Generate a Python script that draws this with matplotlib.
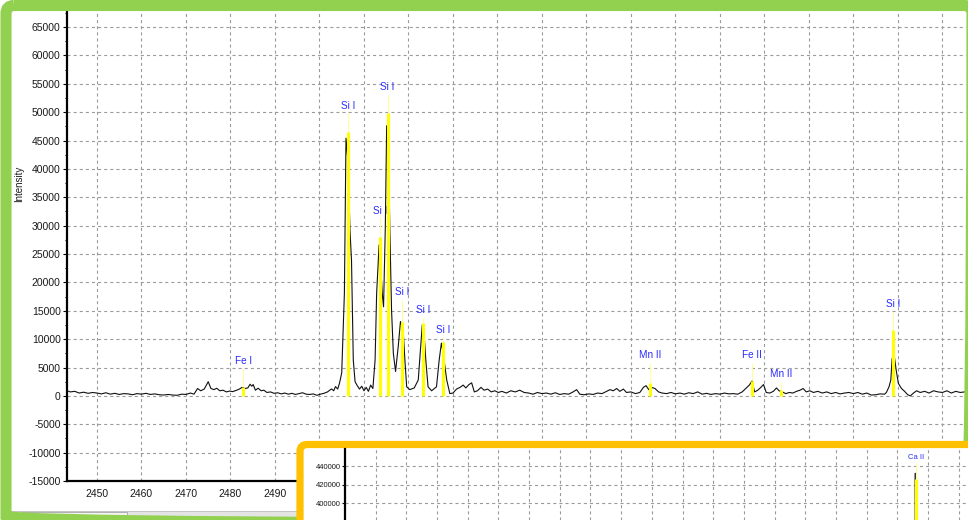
#!/usr/bin/env python
"""Emission spectrum around 2440-2645 with identified lines, plus Ca II detail panel."""
import matplotlib.pyplot as plt
from matplotlib.patches import FancyBboxPatch, Rectangle
from matplotlib.ticker import MultipleLocator

plt.rcParams["font.family"] = ["Liberation Sans", "DejaVu Sans"]
plt.rcParams["lines.scale_dashes"] = False
plt.rcParams["axes.unicode_minus"] = False

# measured spectrum
wavelength = [
    2443.3, 2444.0, 2445.0, 2446.0, 2447.0, 2448.0, 2449.0, 2450.0, 2451.0, 2452.0,
    2453.0, 2454.0, 2455.0, 2456.0, 2457.0, 2458.0, 2459.0, 2460.0, 2461.0, 2462.0,
    2463.0, 2464.0, 2465.0, 2466.0, 2467.0, 2468.0, 2469.0, 2470.0, 2471.0, 2471.8,
    2472.6, 2473.3, 2474.1, 2475.0, 2475.6, 2476.3, 2476.9, 2477.6, 2478.3, 2479.1,
    2479.8, 2480.5, 2481.4, 2482.0, 2482.6, 2483.3, 2483.9, 2484.4, 2484.8, 2485.1,
    2485.6, 2486.2, 2486.9, 2487.5, 2488.2, 2489.0, 2489.8, 2490.6, 2491.4, 2492.2,
    2493.0, 2493.8, 2494.6, 2495.4, 2496.2, 2497.0, 2497.8, 2498.6, 2499.4, 2500.2,
    2501.0, 2501.8, 2502.7, 2503.2, 2503.6, 2504.1, 2504.5, 2505.0, 2505.6, 2505.96,
    2506.45, 2506.85, 2507.2, 2507.6, 2508.0, 2508.5, 2509.0, 2509.5, 2510.0, 2510.5,
    2511.0, 2511.5, 2512.0, 2512.5, 2512.85, 2513.4, 2513.7, 2514.1, 2514.4, 2514.8,
    2515.1, 2515.5, 2515.8, 2516.2, 2516.6, 2517.1, 2517.7, 2518.2, 2518.8, 2519.2,
    2519.6, 2520.3, 2521.3, 2522.2, 2522.8, 2523.1, 2523.5, 2523.9, 2524.4, 2525.2,
    2526.3, 2526.9, 2527.4, 2527.8, 2528.6, 2529.3, 2530.0, 2530.8, 2531.6, 2532.3,
    2532.9, 2533.6, 2534.2, 2534.8, 2535.5, 2536.3, 2537.0, 2537.8, 2538.6, 2539.4,
    2540.2, 2541.0, 2542.0, 2543.0, 2544.0, 2545.0, 2546.0, 2547.0, 2548.0, 2549.0,
    2550.0, 2551.0, 2552.0, 2553.0, 2554.0, 2555.0, 2556.0, 2557.0, 2557.8, 2558.5,
    2559.5, 2560.5, 2561.5, 2562.5, 2563.5, 2564.5, 2565.3, 2566.0, 2566.8, 2567.5,
    2568.3, 2569.0, 2570.0, 2571.0, 2572.0, 2572.8, 2573.4, 2574.0, 2574.6, 2575.4,
    2576.2, 2577.0, 2578.0, 2579.0, 2580.0, 2581.0, 2582.0, 2583.0, 2584.0, 2585.0,
    2586.0, 2587.0, 2588.0, 2589.0, 2590.0, 2591.0, 2592.0, 2593.0, 2594.0, 2595.0,
    2595.8, 2596.6, 2597.2, 2597.8, 2598.5, 2599.2, 2599.8, 2600.4, 2601.2, 2602.0,
    2602.7, 2603.3, 2604.0, 2604.8, 2605.6, 2606.4, 2607.2, 2608.0, 2608.7, 2609.4,
    2610.2, 2611.0, 2612.0, 2613.0, 2614.0, 2615.0, 2616.0, 2617.0, 2618.0, 2619.0,
    2620.0, 2621.0, 2622.0, 2623.0, 2624.0, 2625.0, 2626.0, 2627.0, 2627.4, 2628.0,
    2628.4, 2628.7, 2629.2, 2629.6, 2630.1, 2630.8, 2631.5, 2632.2, 2632.8, 2633.5,
    2634.2, 2635.0, 2636.0, 2637.0, 2638.0, 2639.0, 2640.0, 2641.0, 2642.0, 2643.0,
    2644.0, 2645.0,
]
intensity = [
    900, 700, 800, 500, 650, 450, 600, 500, 350, 550,
    300, 450, 250, 400, 350, 200, 400, 300, 450, 250,
    350, 200, 150, 250, 150, 100, 300, 250, 500, 300,
    1300, 900, 1200, 2500, 1300, 1100, 1350, 900, 1000, 700,
    850, 750, 1000, 1200, 1500, 1300, 1400, 2050, 1700, 2000,
    1000, 1350, 900, 1000, 600, 700, 450, 550, 350, 500,
    300, 450, 250, 400, 550, 300, 250, 350, 100, 300,
    450, 700, 1230, 900, 1640, 1200, 2230, 4050, 18100, 45400,
    41000, 29200, 23900, 6300, 2500, 1800, 1200, 1700, 900, 1500,
    800, 1900, 1300, 6300, 18100, 26600, 23900, 18100, 15700, 29800,
    47600, 44500, 29800, 15100, 7500, 4300, 8700, 13100, 11600, 6300,
    1600, 1100, 1400, 2800, 9300, 12500, 11000, 6300, 1600, 900,
    1600, 6300, 9300, 7500, 2800, 400, 500, 1200, 1500, 1900,
    1400, 2000, 2300, 700, 900, 1500, 1000, 1200, 700, 900,
    600, 800, 500, 900, 700, 1000, 600, 500, 300, 600,
    400, 500, 300, 550, 250, 400, 300, 700, 1100, 300,
    200, 350, 250, 500, 400, 800, 1100, 900, 1300, 800,
    1200, 600, 700, 400, 600, 1500, 1800, 1100, 1500, 1300,
    700, 500, 400, 600, 350, 500, 300, 550, 400, 700,
    300, 450, 250, 400, 300, 500, 350, 400, 300, 700,
    1300, 1900, 2600, 700, 1000, 1500, 2000, 600, 500, 800,
    1400, 900, 700, 400, 600, 500, 800, 1000, 1300, 700,
    900, 600, 800, 500, 700, 400, 600, 350, 500, 600,
    400, 600, 300, 500, 150, 200, 350, 300, 600, 1600,
    2800, 6600, 6900, 4600, 2200, 1300, 800, 200, 0, 500,
    900, 600, 800, 500, 900, 700, 600, 900, 500, 800,
    600, 700,
]

# identified lines: position, line intensity, reach of the marker stem
line_names = ["Fe I", "Si I", "Si I", "Si I", "Si I", "Si I", "Si I",
              "Mn II", "Fe II", "Mn II", "Si I"]
line_wl = [2482.9, 2506.45, 2513.6, 2515.3, 2518.5, 2523.2, 2527.7,
           2574.3, 2597.1, 2603.8, 2629.0]
line_int = [1640, 46500, 28000, 49900, 13100, 12800, 9560,
            2240, 2700, 1000, 11600]
line_reach = [4750, 49800, 31300, 53000, 16900, 13700, 10200,
              5800, 5800, 2500, 14840]

# Ca II detail window
ca_wavelength = [3924.6, 3925.4, 3925.8, 3926.1, 3926.5, 3927.3]
ca_intensity = [2000, 60000, 432600, 280000, 40000, 2000]
ca_names = ["Ca II"]
ca_line_wl = [3926.0]
ca_line_int = [426000]
ca_line_reach = [443500]

W, H = 968, 520
GREEN = "#92d050"
ORANGE = "#ffc000"
LABEL_BLUE = "#2a2aff"
GRID = dict(color="#9a9a9a", linestyle=(0, (2.2, 2.2)), linewidth=0.8)


def px_axes(fig, left, top, right, bottom, **kw):
    return fig.add_axes([left / W, 1 - bottom / H, (right - left) / W, (bottom - top) / H], **kw)


def draw_lines(ax, wl, heights, reach, names, fontsize, offset):
    for x, h, r, name in zip(wl, heights, reach, names):
        ax.vlines(x, h, r, color="#ffff90", lw=0.7, zorder=2)
        ax.vlines(x, 0, h, color="#ffff00", lw=2.2, zorder=4)
        ax.annotate(name, (x, r), xytext=(0, offset), textcoords="offset points",
                    ha="center", va="center", color=LABEL_BLUE, fontsize=fontsize, zorder=1)


def main() -> None:
    fig = plt.figure(figsize=(W / 100, H / 100), dpi=100)

    ax = px_axes(fig, 67, 10, 966, 481, zorder=1)
    ax.plot(wavelength, intensity, color="#111111", lw=0.8, zorder=3)
    draw_lines(ax, line_wl, line_int, line_reach, line_names, 7.2, 5.5)
    ax.set_xlim(2443.26, 2645.3)
    ax.set_ylim(-15000, 68000)
    ax.xaxis.set_major_locator(MultipleLocator(10))
    ax.yaxis.set_major_locator(MultipleLocator(5000))
    ax.yaxis.set_minor_locator(MultipleLocator(2500))
    ax.set_axisbelow(True)
    ax.grid(True, which="major", **GRID)
    for side in ("top", "right"):
        ax.spines[side].set_visible(False)
    for side in ("left", "bottom"):
        ax.spines[side].set_linewidth(1.6)
    ax.tick_params(axis="y", which="major", length=3, width=0.8, pad=1.5,
                   labelsize=7.5, labelcolor="#1a1a1a")
    ax.tick_params(axis="y", which="minor", length=1.6, width=0.8)
    ax.tick_params(axis="x", length=0, pad=5.5, labelsize=7.5, labelcolor="#1a1a1a")
    fig.text(19 / W, 1 - 184 / H, "Intensity", rotation=90, ha="center", va="center",
             fontsize=7, color="#1a1a1a")

    # window frame and scrollbar
    ov = fig.add_axes([0, 0, 1, 1], zorder=2)
    ov.set_xlim(0, W)
    ov.set_ylim(H, 0)
    ov.axis("off")
    ov.add_patch(Rectangle((12, 511), 285, 7, fc="#e4e4e4", ec="none"))
    ov.add_patch(Rectangle((12, 511), 285, 0.8, fc="#c4c4c4", ec="none"))
    ov.add_patch(Rectangle((22, 512), 105, 6, fc="#f3f3f3", ec="#a8a8a8", lw=0.6))
    ov.add_patch(Rectangle((13, 514), 1, 2, fc="#606060", ec="none"))
    ov.add_patch(FancyBboxPatch((6, 5.5), 966, 518.5, boxstyle="round,pad=0,rounding_size=8",
                                fill=False, ec=GREEN, lw=8))

    fr = fig.add_axes([0, 0, 1, 1], zorder=3)
    fr.set_xlim(0, W)
    fr.set_ylim(H, 0)
    fr.axis("off")
    fr.add_patch(FancyBboxPatch((300, 444.5), 700, 100, boxstyle="round,pad=0,rounding_size=7",
                                fc="white", ec=ORANGE, lw=5.2))

    # Ca II detail
    ins = px_axes(fig, 345, 449, 968, 520, zorder=4)
    ins.set_facecolor("none")
    ins.plot(ca_wavelength, ca_intensity, color="#333333", lw=0.8, zorder=3)
    draw_lines(ins, ca_line_wl, ca_line_int, ca_line_reach, ca_names, 5.5, 4)
    ins.set_xlim(3740.03, 3942.97)
    ins.set_ylim(381400, 459100)
    ins.xaxis.set_major_locator(MultipleLocator(10))
    ins.yaxis.set_major_locator(MultipleLocator(20000))
    ins.set_axisbelow(True)
    ins.grid(True, which="major", **GRID)
    for side in ("top", "right", "bottom"):
        ins.spines[side].set_visible(False)
    ins.spines["left"].set_linewidth(1.6)
    ins.tick_params(axis="y", length=2, width=0.8, pad=1.2, labelsize=5.5, labelcolor="#1a1a1a")
    ins.tick_params(axis="x", length=0, labelbottom=False)

    fig.savefig("out.png", dpi=100)
    plt.close(fig)


if __name__ == "__main__":
    main()
